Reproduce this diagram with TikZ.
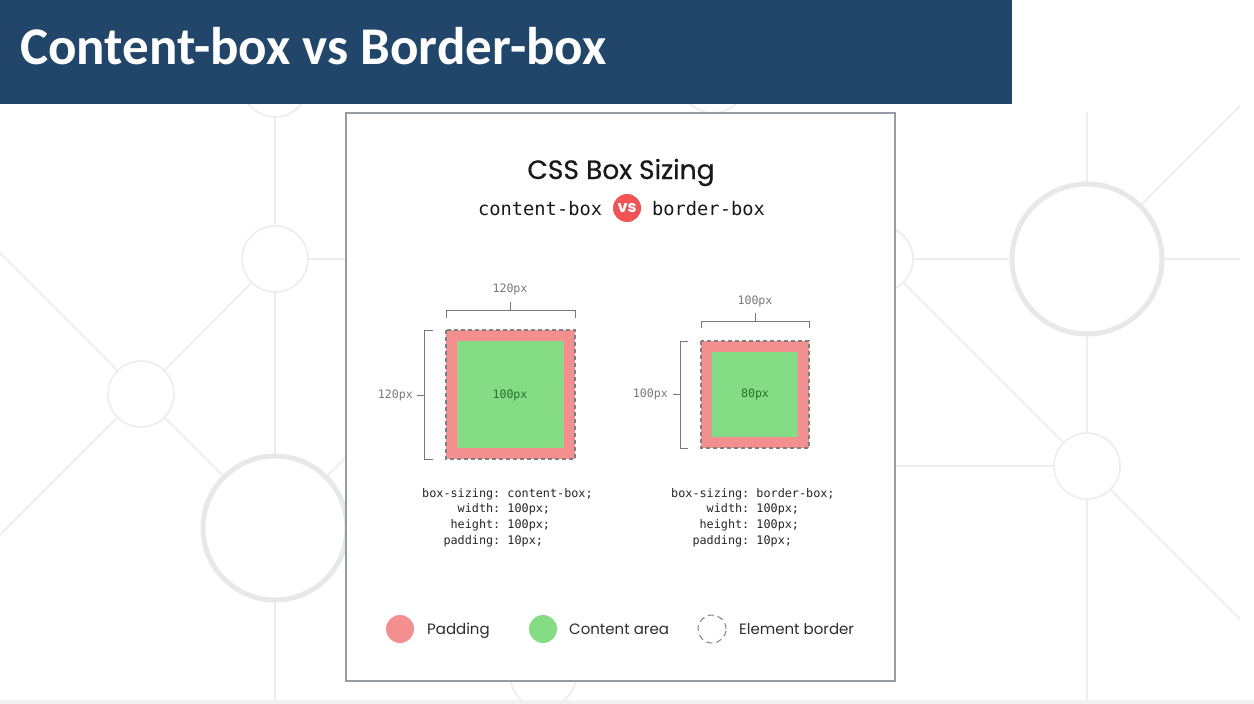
\documentclass[tikz,border=0pt]{standalone}
\usepackage{fontspec}
\setmainfont{Poppins}
\newfontfamily\headfont{Carlito}
\newfontfamily\titlefont[FakeBold=0.6]{Poppins}
\newfontfamily\codefont{DejaVu Sans Mono}

\definecolor{headblue}{RGB}{34,70,106}
\definecolor{netgray}{RGB}{237,237,237}
\definecolor{ringgray}{RGB}{232,232,232}
\definecolor{framegray}{RGB}{150,156,164}
\definecolor{padpink}{RGB}{243,143,143}
\definecolor{contgreen}{RGB}{132,221,132}
\definecolor{contdark}{RGB}{38,110,44}
\definecolor{dimgray}{RGB}{120,120,120}
\definecolor{dashgray}{RGB}{128,128,128}
\definecolor{vsred}{RGB}{240,84,84}
\definecolor{legendtext}{RGB}{45,45,45}
\definecolor{floorgray}{RGB}{241,241,241}

\tikzset{
  netline/.style={draw=netgray, line width=1.6pt},
  netring/.style={draw=netgray, line width=1.6pt, fill=white},
  bigring/.style={draw=ringgray, line width=5pt, fill=white},
  bracket/.style={draw=dimgray, line width=0.9pt},
  padbox/.style={fill=padpink, draw=dashgray, line width=1.1pt, dash pattern=on 4pt off 3pt},
  contbox/.style={fill=contgreen},
  dimlabel/.style={font=\codefont\fontsize{11.6}{12}\selectfont, text=dimgray, inner sep=0pt},
  innerlabel/.style={font=\codefont\fontsize{11.6}{12}\selectfont, text=contdark, inner sep=0pt},
  codeblock/.style={font=\codefont\fontsize{11.8}{15.7}\selectfont, text=black!85, inner sep=0pt, anchor=base west},
  legendtxt/.style={font=\fontsize{15}{16}\selectfont, text=legendtext, inner sep=0pt, anchor=base west},
  dot/.style={circle, minimum size=28pt, inner sep=0pt},
}

\begin{document}
\begin{tikzpicture}[x=1pt, y=-1pt]
\useasboundingbox (0,0) rectangle (1254,704);
\fill[white] (0,0) rectangle (1254,704);

% ---- background network of rings and lines ----
\begin{scope}
  \clip (0,104) rectangle (1240,700);
  \coordinate (ringA) at (275,259);
  \coordinate (ringB) at (141,394);
  \coordinate (ringC) at (275,528);
  \coordinate (ringT) at (275,84);
  \coordinate (ringD) at (880,259);
  \coordinate (ringE) at (1087,259);
  \coordinate (ringF) at (1087,466);
  \coordinate (ringG) at (543,675);
  \coordinate (ringH) at (713,80);
  % lines
  \draw[netline] (275,90) -- (275,704);
  \draw[netline] (0,253) -- (ringB) -- (0,535);
  \draw[netline] (ringB) -- (ringA) -- (346,259);
  \draw[netline] (ringB) -- (ringC) -- (360,443);
  \draw[netline] (ringD) -- (ringE) -- (1250,259);
  \draw[netline] (1087,112) -- (1087,704);
  \draw[netline] (ringE) -- (1240,106);
  \draw[netline] (ringD) -- (ringF) -- (1240,619);
  \draw[netline] (880,466) -- (ringF);
  % rings
  \draw[netring] (ringT) circle[radius=33];
  \draw[netring] (ringA) circle[radius=33];
  \draw[netring] (ringB) circle[radius=33];
  \draw[bigring] (ringC) circle[radius=72];
  \draw[netring] (ringD) circle[radius=33];
  \draw[bigring] (ringE) circle[radius=75];
  \draw[netring] (ringF) circle[radius=33];
  \draw[netring] (ringG) circle[radius=33];
  \draw[netring] (ringH) circle[radius=33];
\end{scope}
\fill[floorgray] (0,700) rectangle (1254,704);

% ---- header bar ----
\fill[headblue] (0,0) rectangle (1012,104);
\node[anchor=base west, inner sep=0pt, text=white,
      font=\headfont\bfseries\fontsize{53}{53}\selectfont] (head) at (20,64) {Content-box vs Border-box};

% ---- card ----
\draw[fill=white, draw=framegray, line width=1.3pt] (346,113) rectangle (895,681);

\node[anchor=base, inner sep=0pt, text=black!90, font=\titlefont\fontsize{26.5}{27}\selectfont] (title) at (621,179) {CSS Box Sizing};
\node[anchor=base west, inner sep=0pt, text=black!90, font=\codefont\fontsize{18.7}{19}\selectfont] (cbox) at (478,215) {content-box};
\node[dot, fill=vsred, text=white, font=\bfseries\fontsize{16}{16}\selectfont] (vs) at (627,208) {vs};
\node[anchor=base west, inner sep=0pt, text=black!90, font=\codefont\fontsize{18.7}{19}\selectfont] (bbox) at (652,215) {border-box};

% ---- content-box example ----
\filldraw[padbox] (446,330) rectangle (575,459);
\fill[contbox] (457,341) rectangle (564,448);
\node[innerlabel] (cin) at (510,395) {100px};
\draw[bracket] (446,318) -- (446,310) -- (575,310) -- (575,318);
\draw[bracket] (510,310) -- (510,302);
\node[dimlabel] (ctop) at (510,289) {120px};
\draw[bracket] (433,330) -- (424,330) -- (424,459) -- (433,459);
\draw[bracket] (424,395) -- (417,395);
\node[dimlabel, anchor=east] (cleft) at (413,395) {120px};

% ---- border-box example ----
\filldraw[padbox] (701,341) rectangle (809,448);
\fill[contbox] (712,352) rectangle (798,437);
\node[innerlabel] (bin) at (755,394) {80px};
\draw[bracket] (701,328) -- (701,321) -- (809,321) -- (809,328);
\draw[bracket] (755,321) -- (755,313);
\node[dimlabel] (btop) at (755,301) {100px};
\draw[bracket] (688,341) -- (680,341) -- (680,448) -- (688,448);
\draw[bracket] (680,394) -- (673,394);
\node[dimlabel, anchor=east] (bleft) at (668,394) {100px};

% ---- css declarations ----
\node[codeblock] (ccode) at (422,497) {\begin{tabular}[t]{@{}r@{\ }l@{}}
box-sizing: & content-box;\\
width: & 100px;\\
height: & 100px;\\
padding: & 10px;
\end{tabular}};
\node[codeblock] (bcode) at (671,497) {\begin{tabular}[t]{@{}r@{\ }l@{}}
box-sizing: & border-box;\\
width: & 100px;\\
height: & 100px;\\
padding: & 10px;
\end{tabular}};

% ---- legend ----
\node[dot, fill=padpink] (lpad) at (400,629) {};
\node[legendtxt] (tpad) at (427,634) {Padding};
\node[dot, fill=contgreen] (lcont) at (543,629) {};
\node[legendtxt] (tcont) at (569,634) {Content area};
\node[dot, draw=dashgray, line width=1pt, dash pattern=on 6pt off 4pt] (lbord) at (712,629) {};
\node[legendtxt] (tbord) at (739,634) {Element border};
\end{tikzpicture}
\end{document}
